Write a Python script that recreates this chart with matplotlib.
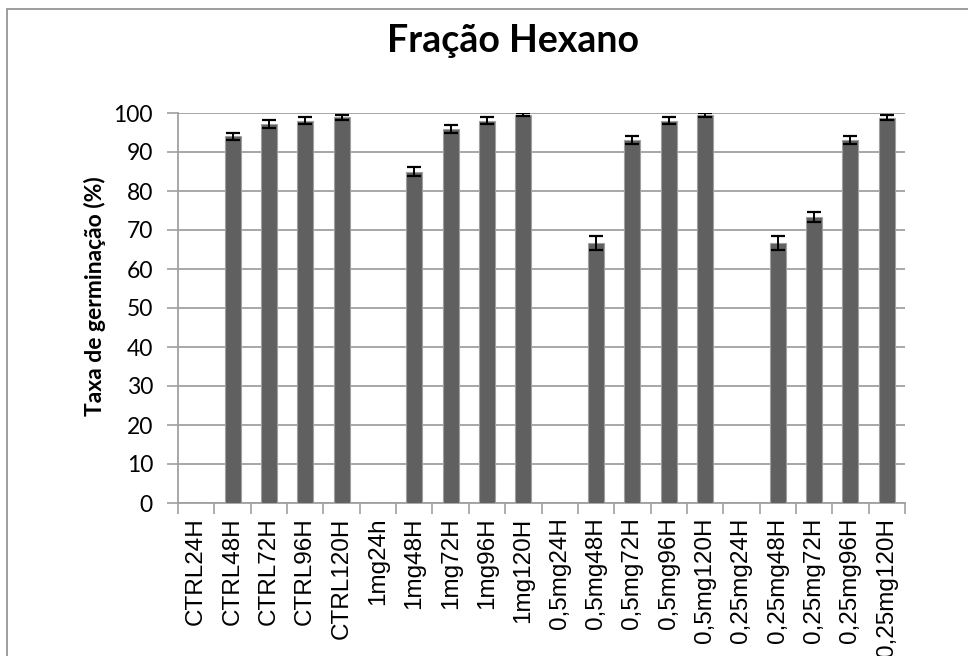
import matplotlib
matplotlib.use("Agg")
import matplotlib.pyplot as plt
from matplotlib.patches import Rectangle
import numpy as np

categories = ["CTRL24H", "CTRL48H", "CTRL72H", "CTRL96H", "CTRL120H",
              "1mg24h", "1mg48H", "1mg72H", "1mg96H", "1mg120H",
              "0,5mg24H", "0,5mg48H", "0,5mg72H", "0,5mg96H", "0,5mg120H",
              "0,25mg24H", "0,25mg48H", "0,25mg72H", "0,25mg96H", "0,25mg120H"]
values = [0, 94.0, 97.1, 98.0, 98.9,
          0, 85.0, 96.0, 98.0, 99.6,
          0, 66.7, 93.0, 98.0, 99.6,
          0, 66.7, 73.3, 93.1, 98.8]
errors = [0, 0.85, 1.05, 0.85, 0.7,
          0, 1.05, 1.0, 0.85, 0.45,
          0, 1.85, 1.0, 0.85, 0.5,
          0, 1.85, 1.3, 1.05, 0.7]
yticks = list(range(0, 101, 10))
title = "Fração Hexano"
ylabel = "Taxa de germinação (%)"

W, H = 968, 656
fig = plt.figure(figsize=(W / 100, H / 100), dpi=100)
fig.patch.set_facecolor("white")

# outer chart border
fig.patches.append(Rectangle((7 / W, -0.05), 1.2, 1 - 9 / H + 0.05,
                             transform=fig.transFigure, fill=False,
                             edgecolor="#8c8c8c", linewidth=1.2, zorder=0))

ax = fig.add_axes([178 / W, 1 - 503 / H, (905 - 178) / W, (503 - 113) / H])
x = np.arange(len(categories))
ax.bar(x, values, width=0.44, color="#606060", edgecolor="#a0a0a0",
       linewidth=0.8, zorder=3)
idx = [i for i, v in enumerate(values) if v > 0]
ax.errorbar([x[i] for i in idx], [values[i] for i in idx],
            yerr=[errors[i] for i in idx], fmt="none", ecolor="black",
            elinewidth=1.4, capsize=4.7, capthick=1.6, zorder=4)

ax.set_xlim(-0.5, len(categories) - 0.5)
ax.set_ylim(0, 100)
ax.set_yticks(yticks)
ax.set_yticklabels([str(t) for t in yticks], fontsize=16.5, family="Lato")
ax.yaxis.grid(True, color="#a0a0a0", linewidth=1.3, zorder=0)
ax.set_axisbelow(True)

ax.set_xticks(x)
ax.set_xticklabels(categories, rotation=90, fontsize=17.5, family="Liberation Sans")
ax.set_xticks(np.arange(-0.5, len(categories), 1.0), minor=True)
ax.tick_params(axis="x", which="major", length=0, pad=10.5)
ax.tick_params(axis="x", which="minor", length=8, width=1.2, color="#a0a0a0")
ax.tick_params(axis="y", length=8, width=1.2, color="#a0a0a0", pad=10)

for s in ["top", "right"]:
    ax.spines[s].set_visible(False)
for s in ["left", "bottom"]:
    ax.spines[s].set_color("#a0a0a0")
    ax.spines[s].set_linewidth(1.3)

fig.text(513 / W, 1 - 41 / H, title, ha="center", va="center",
         fontsize=27, fontweight="bold", family="Lato")
fig.text(95 / W, 1 - 296 / H, ylabel, ha="center", va="center",
         rotation=90, fontsize=16.5, fontweight="bold", family="Lato")

fig.savefig("out.png", dpi=100, facecolor="white")
